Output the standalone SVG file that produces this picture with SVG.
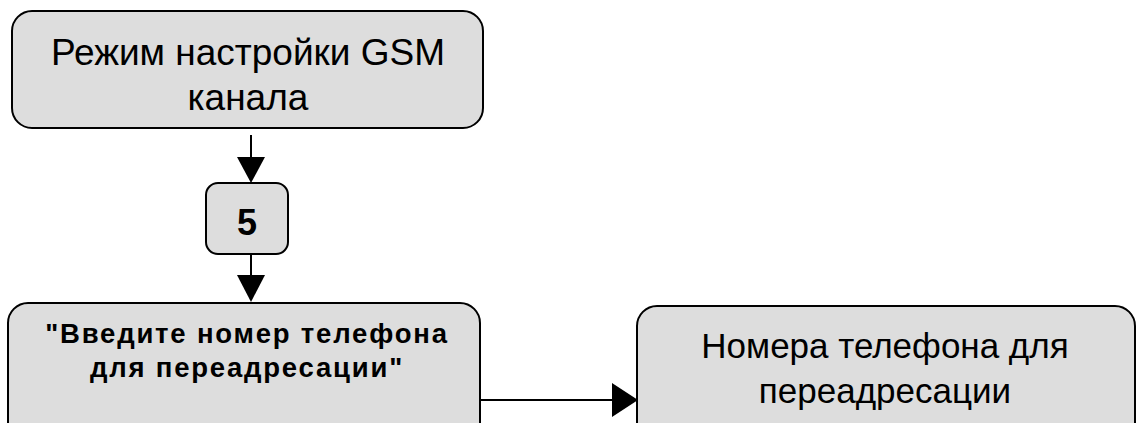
<svg xmlns="http://www.w3.org/2000/svg" width="1144" height="423" viewBox="0 0 1144 423">
<style>
.box{fill:#dddddd;stroke:#000;stroke-width:2}
.t{font-family:"Liberation Sans",Arial,sans-serif;font-size:37px;fill:#000;text-anchor:middle}
.t2{font-family:"Liberation Sans",Arial,sans-serif;font-size:35px;fill:#000;text-anchor:middle}
.b{font-family:"Liberation Sans",Arial,sans-serif;font-size:27.5px;font-weight:bold;letter-spacing:1.8px;fill:#000;text-anchor:middle}
.n{font-family:"Liberation Sans",Arial,sans-serif;font-size:36px;font-weight:bold;fill:#000;text-anchor:middle}
.c{stroke:#000;stroke-width:2;fill:none}
.h{fill:#000}
</style>
<rect width="1144" height="423" fill="#fff"/>
<g id="node-gsm">
<rect class="box" x="12" y="11" width="471" height="117" rx="20"/>
<text class="t" x="248" y="65">Режим настройки GSM</text>
<text class="t" x="248" y="110">канала</text>
</g>
<g id="node-5">
<rect class="box" x="206" y="183" width="82" height="71" rx="12"/>
<text class="n" x="247" y="235">5</text>
</g>
<g id="node-prompt">
<rect class="box" x="8" y="303" width="472" height="140" rx="20"/>
<text class="b" x="247" y="343">"Введите номер телефона</text>
<text class="b" x="247" y="377">для переадресации"</text>
</g>
<g id="node-numbers">
<rect class="box" x="637" y="306" width="498" height="140" rx="20"/>
<text class="t2" x="885" y="358">Номера телефона для</text>
<text class="t2" x="885" y="403">переадресации</text>
</g>
<g id="connectors">
<line class="c" x1="251" y1="135" x2="251" y2="160"/>
<polygon class="h" points="237,157 265,157 251,183"/>
<line class="c" x1="251" y1="254" x2="251" y2="278"/>
<polygon class="h" points="237,275 265,275 251,302"/>
<line class="c" x1="480" y1="400" x2="614" y2="400"/>
<polygon class="h" points="612,383 612,417 638,400"/>
</g>
</svg>
